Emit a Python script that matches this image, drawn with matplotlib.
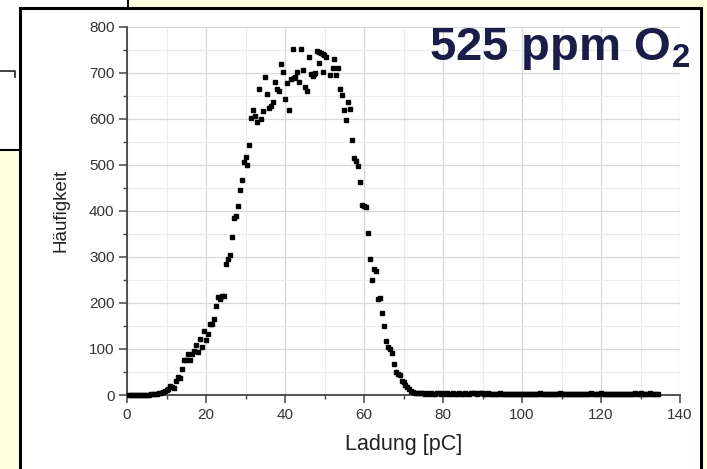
import numpy as np
import matplotlib
matplotlib.use("Agg")
import matplotlib.pyplot as plt
from matplotlib.patches import Rectangle
from matplotlib.lines import Line2D
from matplotlib.ticker import MultipleLocator

plt.rcParams['font.family'] = ['Liberation Sans', 'DejaVu Sans']
plt.rcParams['mathtext.fontset'] = 'custom'
plt.rcParams['mathtext.bf'] = 'Liberation Sans:bold'
plt.rcParams['mathtext.rm'] = 'Liberation Sans'

# charge histogram
lead_x = np.arange(0.5, 8.0, 0.5)
lead_y = [0, 0, 0, 1, 0, 1, 1, 1, 1, 1, 1, 2, 2, 2, 3]

main_x = [8.0, 8.5, 9.0, 9.5, 10.0, 10.5, 11.0, 11.5, 12.0, 12.5, 13.0, 13.5,
          14.0, 14.5, 15.0, 15.5, 16.0, 16.5, 17.0, 17.5, 18.0, 18.5, 19.0, 19.5,
          20.0, 20.5, 21.0, 21.5, 22.0, 22.5, 23.0, 23.5, 24.0, 24.5, 25.0, 25.5,
          26.0, 26.5, 27.0, 27.5, 28.0, 28.5, 29.0, 29.5, 30.0, 30.5, 31.0, 31.5,
          32.0, 32.5, 33.0, 33.5, 34.0, 34.5, 35.0, 35.5, 36.0, 36.5, 37.0, 37.5,
          38.0, 38.5, 39.0, 39.5, 40.0, 40.5, 41.0, 41.6, 42.0, 42.2, 42.6, 43.0,
          43.5, 44.0, 44.5, 45.0, 45.5, 46.0, 46.5, 47.0, 47.3, 47.6, 48.1, 48.5,
          48.6, 49.0, 49.5, 49.6, 49.9, 50.4, 51.5, 52.1, 52.5, 53.0, 53.5, 54.0,
          54.5, 55.0, 55.5, 56.0, 56.5, 57.0, 57.5, 58.0, 58.5, 59.0, 59.5, 60.0,
          60.5, 61.0, 61.5, 62.0, 62.5, 63.0, 63.5, 64.0, 64.5, 65.0, 65.5, 66.0,
          66.5, 67.0, 67.5, 68.0, 68.5, 69.0, 69.5, 70.0, 70.5, 71.0, 71.5, 72.0,
          72.5, 73.0, 73.5, 74.0]
main_y = [4, 4, 6, 8, 11, 12, 20, 18, 16, 30, 40, 37,
          56, 76, 75, 88, 76, 89, 96, 108, 93, 121, 105, 138,
          120, 133, 155, 155, 166, 193, 212, 208, 216, 216, 285, 296,
          304, 344, 384, 388, 411, 446, 467, 506, 516, 499, 544, 601,
          619, 606, 592, 665, 600, 616, 690, 654, 624, 627, 637, 679,
          664, 660, 719, 701, 643, 678, 619, 686, 752, 689, 690, 702,
          680, 752, 706, 668, 660, 735, 698, 693, 697, 700, 747, 721,
          746, 743, 741, 701, 739, 735, 694, 711, 730, 694, 710, 664,
          652, 619, 598, 637, 621, 554, 514, 508, 497, 463, 413, 411,
          408, 351, 295, 249, 273, 270, 208, 211, 179, 149, 118, 105,
          101, 92, 67, 49, 46, 43, 31, 29, 22, 17, 12, 9,
          7, 5, 4, 4]

tail_x = np.arange(74.5, 135.0, 0.5)
tail_y = [4, 4, 3, 4, 3, 4, 3, 3, 4, 5, 3, 4,
          3, 4, 3, 3, 4, 3, 3, 5, 3, 3, 4, 3, 3, 4, 5, 4, 3, 4, 5, 4,
          3, 3, 4, 3, 3, 2, 3, 3, 4, 3, 2, 3, 3, 2, 3, 3, 2, 3, 3, 2,
          2, 3, 2, 3, 2, 2, 3, 2, 4, 2, 2, 3, 2, 2, 3, 2, 2, 3, 4, 2,
          2, 3, 2, 2, 2, 3, 2, 2, 3, 2, 2, 2, 3, 2, 4, 2, 2, 3, 2, 4,
          2, 2, 3, 2, 2, 2, 3, 2, 2, 2, 3, 2, 2, 2, 3, 2, 4, 2, 2, 4,
          2, 2, 3, 2, 4, 2, 2, 3, 3]

x = np.concatenate([lead_x, main_x, tail_x])
y = np.concatenate([lead_y, main_y, tail_y])

W, H = 707, 469
fig = plt.figure(figsize=(W / 100, H / 100), dpi=100, facecolor='#ffffe0')


def fx(p):
    return p / W


def fy(p):
    return 1 - p / H


# slide background pieces
fig.patches.append(Rectangle((-0.05, fy(150)), fx(128) + 0.05, 0.5,
                             transform=fig.transFigure, facecolor='white',
                             edgecolor='black', lw=1.5, zorder=-6))
fig.lines.append(Line2D([0, fx(15), fx(15)], [fy(71), fy(71), fy(77)],
                        transform=fig.transFigure, color='#333333', lw=1.3, zorder=-5))
fig.patches.append(Rectangle((fx(20), -0.05), fx(701) - fx(20), fy(8) + 0.05,
                             transform=fig.transFigure, facecolor='white',
                             edgecolor='black', lw=2.2, zorder=-4))

ax = fig.add_axes([fx(127), fy(395), fx(680) - fx(127), fy(26.7) - fy(395)])
ax.patch.set_alpha(0)

ax.plot(x, y, linestyle='none', marker='s', ms=3.2, color='black', clip_on=False, zorder=3)

ax.set_xlim(0, 140)
ax.set_ylim(0, 800)
ax.xaxis.set_major_locator(MultipleLocator(20))
ax.xaxis.set_minor_locator(MultipleLocator(10))
ax.yaxis.set_major_locator(MultipleLocator(100))
ax.yaxis.set_minor_locator(MultipleLocator(50))

ax.grid(which='major', color='#d8d8d8', lw=0.9)
ax.grid(which='minor', color='#ececec', lw=0.8)
ax.set_axisbelow(True)

for s in ['top', 'right']:
    ax.spines[s].set_visible(False)
for s in ['left', 'bottom']:
    ax.spines[s].set_color('#444444')
    ax.spines[s].set_linewidth(1.3)

ax.tick_params(which='major', direction='out', length=6, width=1.1, color='#444444',
               labelcolor='#333333', labelsize=11, pad=3)
ax.tick_params(which='minor', direction='out', length=3, width=1.0, color='#444444')

ax.set_xlabel('Ladung [pC]', fontsize=15.5, color='#222222', labelpad=9)
ax.set_ylabel('Häufigkeit', fontsize=13.5, color='#222222', labelpad=14)

fig.text(fx(690), fy(60), r'525 ppm O$_\mathbf{2}$', ha='right', va='baseline',
         fontsize=34, fontweight='bold', color='#1c1c48')

fig.savefig('out.png', dpi=100, facecolor=fig.get_facecolor())
